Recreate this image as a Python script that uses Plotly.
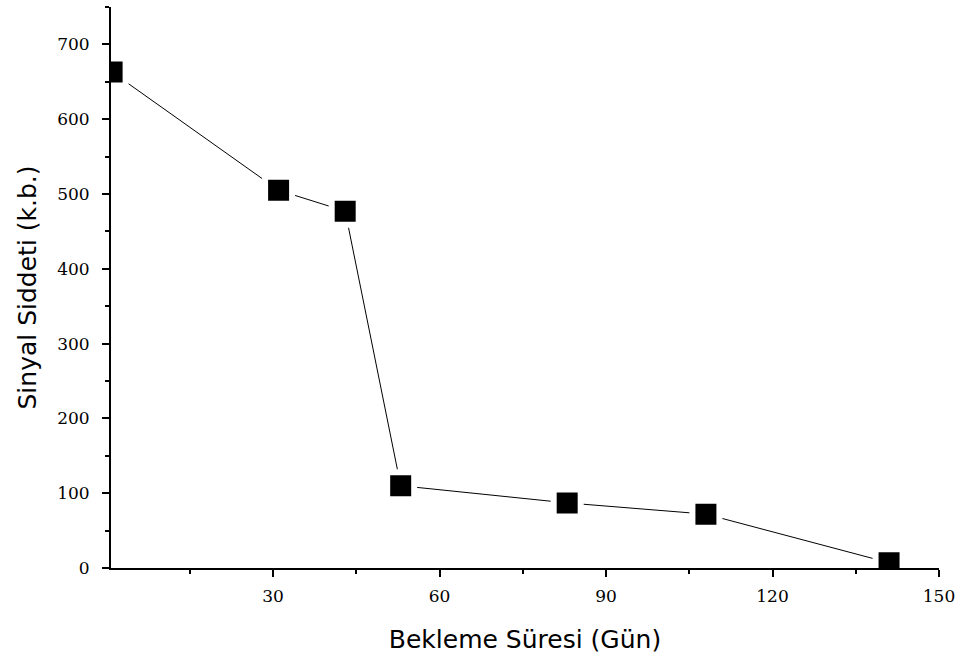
import plotly.graph_objects as go

# Signal intensity vs. waiting time
days = [1, 31, 43, 53, 83, 108, 141]
signal = [663, 505, 477, 110, 87, 72, 7]

x_tickvals = [30, 60, 90, 120, 150]
y_tickvals = [0, 100, 200, 300, 400, 500, 600, 700]

fig = go.Figure()
fig.add_trace(go.Scatter(
    x=days, y=signal,
    mode="lines+markers",
    line=dict(color="black", width=1),
    marker=dict(symbol="square", size=27, color="black",
                line=dict(color="white", width=6)),
    cliponaxis=True,
    showlegend=False,
))

axis_common = dict(
    showgrid=False, zeroline=False,
    showline=True, linecolor="black", linewidth=2,
    ticks="outside", ticklen=7, tickwidth=2, tickcolor="black",
    tickfont=dict(family="DejaVu Serif", size=17, color="black"),
    mirror=False,
)

title_font = dict(family="DejaVu Sans", size=25, color="black")

fig.update_xaxes(
    range=[0.8, 150], tickvals=x_tickvals,
    minor=dict(dtick=15, tick0=0, ticks="outside", ticklen=4, tickwidth=2, tickcolor="black"),
    title=dict(text="Bekleme Süresi (Gün)", standoff=25, font=title_font),
    ticklabelstandoff=5,
    **axis_common,
)
fig.update_yaxes(
    range=[0, 750], tickvals=y_tickvals,
    minor=dict(dtick=50, tick0=0, ticks="outside", ticklen=4, tickwidth=2, tickcolor="black"),
    title=dict(text="Sinyal Siddeti (k.b.)", standoff=13, font=title_font),
    ticklabelstandoff=9,
    **axis_common,
)

fig.update_layout(
    width=965, height=661,
    margin=dict(l=111, r=26, t=7, b=93),
    paper_bgcolor="white", plot_bgcolor="white",
)

fig.write_html("out.html")
